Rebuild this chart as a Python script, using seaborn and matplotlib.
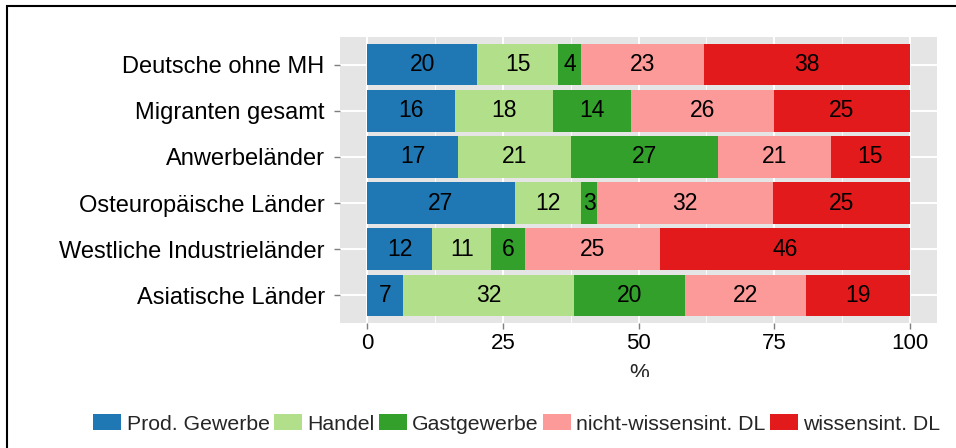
import numpy as np
import pandas as pd
import matplotlib
matplotlib.use("Agg")
import matplotlib.pyplot as plt
import seaborn as sns
from matplotlib.patches import Patch, Rectangle
from matplotlib.transforms import Bbox

# Data (shares in %)
groups = ["Deutsche ohne MH", "Migranten gesamt", "Anwerbeländer",
          "Osteuropäische Länder", "Westliche Industrieländer", "Asiatische Länder"]
sectors = ["Prod. Gewerbe", "Handel", "Gastgewerbe", "nicht-wissensint. DL", "wissensint. DL"]

prod = [20.3, 16.2, 16.8, 27.2, 12.0, 6.6]
handel = [14.9, 18.1, 20.7, 12.2, 10.9, 31.5]
gast = [4.2, 14.4, 27.1, 3.0, 6.1, 20.4]
nicht_wdl = [22.7, 26.3, 20.8, 32.3, 25.0, 22.4]
wdl = [37.9, 25.0, 14.6, 25.3, 46.0, 19.1]

df = pd.DataFrame({"group": groups, "Prod. Gewerbe": prod, "Handel": handel,
                   "Gastgewerbe": gast, "nicht-wissensint. DL": nicht_wdl,
                   "wissensint. DL": wdl})
cum = df[sectors].cumsum(axis=1)

colors = sns.color_palette("Paired")[1:6]

sns.set_theme(style="darkgrid", rc={
    "axes.facecolor": "#E5E5E5",
    "grid.color": "white",
    "xtick.bottom": True,
    "ytick.left": True,
})
plt.rcParams["font.family"] = ["Liberation Sans", "DejaVu Sans"]

fig = plt.figure(figsize=(9.56, 4.48), dpi=100)
ax = fig.add_axes([340 / 956, 1 - 323 / 448, (937 - 340) / 956, (323 - 37) / 448])

# stacked bars: draw cumulative totals from the right-most segment backwards
for k in range(len(sectors) - 1, -1, -1):
    sns.barplot(x=cum[sectors[k]], y=df["group"], orient="h", color=colors[k],
                width=0.9, saturation=1, ax=ax, zorder=2, linewidth=0)

for i in range(len(groups)):
    for k, s in enumerate(sectors):
        v = df[s].iloc[i]
        ax.text(cum[s].iloc[i] - v / 2, i, str(int(round(v))), ha="center", va="center",
                fontsize=16.5, color="black", zorder=3)

ax.set_xlim(-5, 105)
ax.set_ylim(len(groups) - 0.4, -0.6)
ax.set_xticks([0, 25, 50, 75, 100])
ax.set_xticks([12.5, 37.5, 62.5, 87.5], minor=True)
ax.grid(True, which="major", color="white", linewidth=1.4)
ax.grid(True, which="minor", axis="x", color="white", linewidth=0.6)
ax.set_axisbelow(True)
for sp in ax.spines.values():
    sp.set_visible(False)
ax.tick_params(axis="both", which="major", length=4.5, width=1, color="#7F7F7F",
               labelcolor="black")
ax.tick_params(axis="y", labelsize=17, pad=6.5)
ax.tick_params(axis="x", labelsize=16, pad=3)
ax.tick_params(axis="x", which="minor", length=0)
ax.set_ylabel("")
ax.set_xlabel("")

# x label, clipped at the bottom as in the original
t = fig.text(639 / 956, 1 - 373 / 448, "%", ha="center", va="center", fontsize=16)
t.set_clip_box(Bbox([[0, 448 - 377], [956, 448]]))
t.set_clip_on(True)

handles = [Patch(facecolor=c, edgecolor="none") for c in colors]
fig.legend(handles, sectors, loc="center", bbox_to_anchor=(517 / 956, 1 - 424 / 448),
           ncol=5, frameon=False, fontsize=15.3, handlelength=1.32, handleheight=0.75,
           handletextpad=0.25, columnspacing=0.2, borderaxespad=0)

# outer frame (partly outside the image)
fig.patches.append(Rectangle((7 / 956, -0.5), 2, 1.5 - 6 / 448, transform=fig.transFigure,
                             fill=False, edgecolor="black", linewidth=1.5))

fig.savefig("out.png", dpi=100)
